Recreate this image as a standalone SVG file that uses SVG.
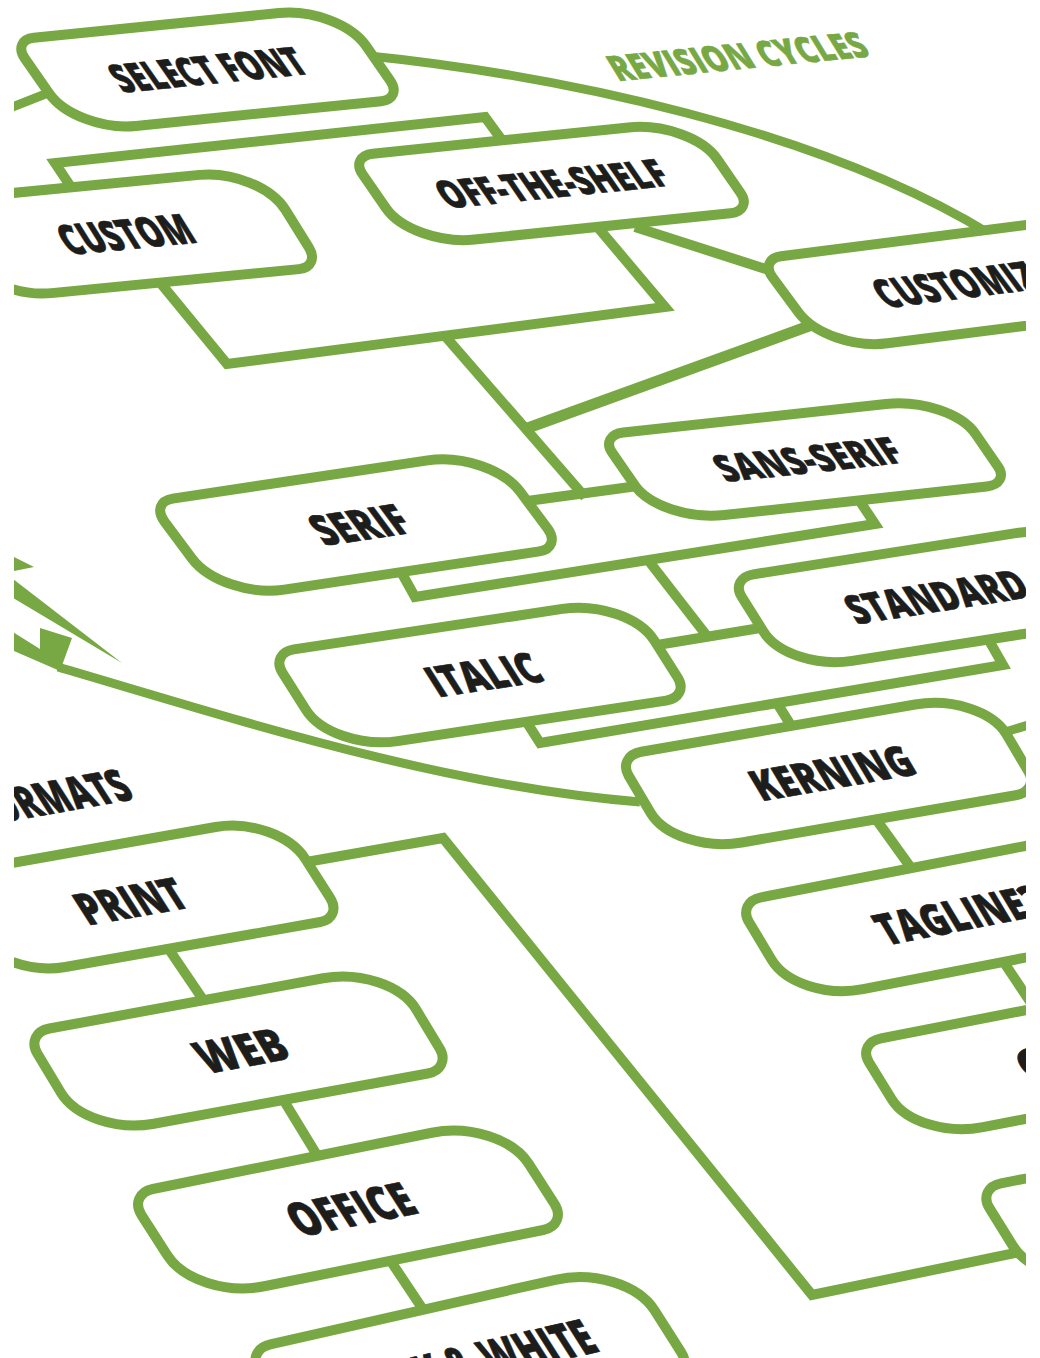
<svg xmlns="http://www.w3.org/2000/svg" xmlns:xlink="http://www.w3.org/1999/xlink" width="1040" height="1358" viewBox="0 0 1040 1358">
<style>
.box{fill:#fff;stroke:#77a843;stroke-width:10}
.lbl{font-family:"Open Sans","Liberation Sans",sans-serif;font-weight:800;font-size:41px;fill:#1d1d1b;stroke:#1d1d1b;stroke-width:0.6px;stroke-linejoin:round;text-anchor:middle}
.title{font-family:"Open Sans","Liberation Sans",sans-serif;font-weight:800;font-size:38px;fill:#77a843;stroke:#77a843;stroke-width:0.6px;stroke-linejoin:round;text-anchor:middle}
.conn{fill:none;stroke:#77a843;stroke-width:10;stroke-linejoin:miter}
.arc{fill:none;stroke:#77a843;stroke-width:9}
.ah{fill:#77a843}
</style>
<defs>
<clipPath id="frame"><rect x="14" y="0" width="1012" height="1358"/></clipPath>
<path id="shape" vector-effect="non-scaling-stroke" d="M20,0 H245 A55,42 0 0 1 300,42 V80 A20,20 0 0 1 280,100 H55 A55,42 0 0 1 0,58 V20 A20,20 0 0 1 20,0 Z"/>
</defs>
<rect x="0" y="0" width="1040" height="1358" fill="#fff"/>
<g clip-path="url(#frame)">
<g id="connectors">
<path class="arc" d="M360,55 C560,75 820,130 990,234"/>
<path class="arc" d="M48,93 L0,112"/>
<path class="arc" d="M58,667 C232,718 440,786 640,802"/>
<path class="arc" d="M995,735 L1045,720"/>
<polygon class="ah" points="0,550 34,567 0,574"/>
<polygon class="ah" points="0,569 122,663 0,590"/>
<polygon class="ah" points="0,624 40,649 40,628 72,638 60,671 0,645"/>
<path class="conn" d="M73,190 L55,163 L485,117 L504,143"/>
<path class="conn" d="M158,280 L227,364 L665,307 L595,224"/>
<path class="conn" d="M445,336 L585,497"/>
<path class="conn" style="stroke-width:11" d="M525,429 L820,322"/>
<path class="conn" d="M635,227 L775,272"/>
<path class="conn" d="M520,502 L645,485"/>
<path class="conn" d="M400,570 L415,597 L875,524 L857,497"/>
<path class="conn" d="M648,560 L707,636"/>
<path class="conn" d="M645,647 L772,626"/>
<path class="conn" d="M524,718 L540,743 L1003,665 L987,637"/>
<path class="conn" d="M777,703 L795,732"/>
<path class="conn" d="M873,815 L914,872"/>
<path class="conn" d="M1001,958 L1037,1012"/>
<path class="conn" d="M295,864 L443,838 L812,1295 L1020,1252"/>
<path class="conn" d="M166,945 L206,1004"/>
<path class="conn" d="M281,1096 L320,1160"/>
<path class="conn" d="M388,1257 L426,1314"/>
</g>
<g id="node-select-font" transform="matrix(1.09,-0.11,0.64,0.92,12,40)"><use href="#shape" class="box"/><text class="lbl" x="150" y="65" textLength="173" lengthAdjust="spacingAndGlyphs">SELECT FONT</text></g>
<g id="node-custom" transform="matrix(1.1,-0.1067,0.61,0.98,-70,201)"><use href="#shape" class="box"/><text class="lbl" x="150" y="65" textLength="118" lengthAdjust="spacingAndGlyphs">CUSTOM</text></g>
<g id="node-off-the-shelf" transform="matrix(1.1367,-0.1167,0.62,0.9,350,156)"><use href="#shape" class="box"/><text class="lbl" x="150" y="65" textLength="198" lengthAdjust="spacingAndGlyphs">OFF-THE-SHELF</text></g>
<g id="node-customize" transform="matrix(1.1,-0.14,0.68,0.92,759,259)"><use href="#shape" class="box"/><text class="lbl" x="155" y="65" textLength="158" lengthAdjust="spacingAndGlyphs">CUSTOMIZE</text></g>
<g id="node-sans-serif" transform="matrix(1.1667,-0.1267,0.6,0.87,600,435)"><use href="#shape" class="box"/><text class="lbl" x="152" y="65" textLength="155" lengthAdjust="spacingAndGlyphs">SANS-SERIF</text></g>
<g id="node-serif" transform="matrix(1.1333,-0.17,0.72,0.97,150,502)"><use href="#shape" class="box"/><text class="lbl" x="153" y="65" textLength="80" lengthAdjust="spacingAndGlyphs">SERIF</text></g>
<g id="node-standard" transform="matrix(1.1667,-0.1833,0.58,0.93,730,578)"><use href="#shape" class="box"/><text class="lbl" x="152" y="65" textLength="151" lengthAdjust="spacingAndGlyphs">STANDARD</text></g>
<g id="node-italic" transform="matrix(1.1933,-0.18,0.62,0.98,270,653)"><use href="#shape" class="box"/><text class="lbl" x="153" y="65" textLength="91" lengthAdjust="spacingAndGlyphs">ITALIC</text></g>
<g id="node-kerning" transform="matrix(1.2167,-0.21,0.58,0.98,617,756)"><use href="#shape" class="box"/><text class="lbl" x="153" y="65" textLength="130" lengthAdjust="spacingAndGlyphs">KERNING</text></g>
<g id="node-tagline" transform="matrix(1.2,-0.2333,0.6,1,737,902)"><use href="#shape" class="box"/><text class="lbl" x="160" y="65" textLength="135" lengthAdjust="spacingAndGlyphs">TAGLINE?</text></g>
<g id="node-c" transform="matrix(1.2,-0.2333,0.6,0.97,857,1043)"><use href="#shape" class="box"/><text class="lbl" x="109" y="65" style="text-anchor:start">C</text></g>
<g id="node-partial" transform="matrix(1.2,-0.2333,0.62,1,977,1188)"><use href="#shape" class="box"/></g>
<g id="node-print" transform="matrix(1.1333,-0.2,0.65,1.02,-62,876)"><use href="#shape" class="box"/><text class="lbl" x="140" y="67" textLength="92" lengthAdjust="spacingAndGlyphs">PRINT</text></g>
<g id="node-web" transform="matrix(1.2167,-0.2233,0.62,1.03,25,1033)"><use href="#shape" class="box"/><text class="lbl" x="152" y="65" textLength="71" lengthAdjust="spacingAndGlyphs">WEB</text></g>
<g id="node-office" transform="matrix(1.24,-0.25,0.68,1.06,128,1194)"><use href="#shape" class="box"/><text class="lbl" x="152" y="65" textLength="97" lengthAdjust="spacingAndGlyphs">OFFICE</text></g>
<g id="node-black-white" transform="matrix(1.2667,-0.2867,0.7,1.1,245,1350)"><use href="#shape" class="box"/><text class="lbl" x="143" y="65" textLength="205" lengthAdjust="spacingAndGlyphs">BLACK &amp; WHITE</text></g>
<g id="label-revision-cycles" transform="matrix(1,-0.098,0.55,0.9,738,57)"><text class="title" x="0" y="13" textLength="254" lengthAdjust="spacingAndGlyphs">REVISION CYCLES</text></g>
<g id="label-formats" transform="matrix(1.1333,-0.2,0.65,1.02,51,798)"><text class="lbl" x="0" y="14" textLength="135" lengthAdjust="spacingAndGlyphs">FORMATS</text></g>
</g>
</svg>
